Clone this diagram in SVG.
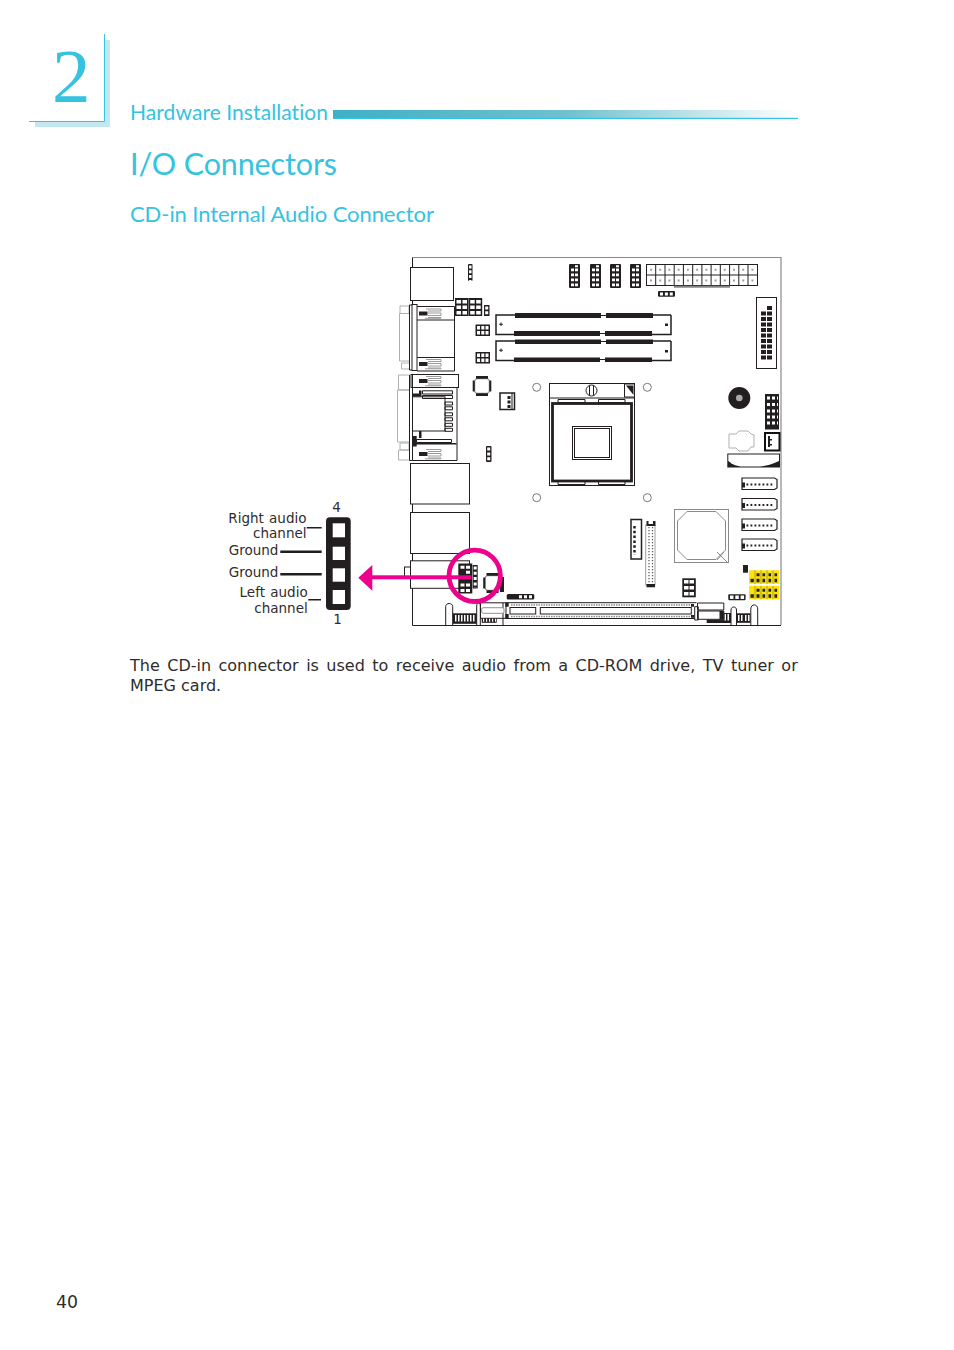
<svg xmlns="http://www.w3.org/2000/svg" width="954" height="1350" viewBox="0 0 954 1350">
<style>
.h{font-family:"Lato","Liberation Sans",sans-serif;fill:#35c3e0;font-variant-ligatures:none}
.t{font-family:"DejaVu Sans",sans-serif;fill:#2f2c2d}
.l{fill:none;stroke:#231f20;stroke-width:1}
.m{fill:none;stroke:#231f20;stroke-width:1.5}
.g{fill:none;stroke:#a8a8a8;stroke-width:1}
.k{fill:#231f20}
.w{fill:#fff}
.hole{fill:none;stroke:#fff;stroke-width:2.800}
.pk{fill:none;stroke:#231f20;stroke-width:1.400}
</style>
<defs>
<linearGradient id="bar" x1="0" x2="1" y1="0" y2="0">
<stop offset="0" stop-color="#3fb0c4"/><stop offset=".5" stop-color="#6fc0cf"/><stop offset="1" stop-color="#ffffff"/>
</linearGradient>
<g id="h24">
<rect class="k" width="11" height="24" rx="1"/>
<path class="w" d="M2 4.500h3v2.800h-3zM6 4.500h3v2.800h-3zM2 9.500h3v2.800h-3zM6 9.500h3v2.800h-3zM2 14.500h3v2.800h-3zM6 14.500h3v2.800h-3zM2 19.500h3v2.800h-3zM6 19.500h3v2.800h-3zM6 1.200h3v2h-3z"/>
</g>
<g id="h32">
<rect class="k" width="13.500" height="18"/>
<path class="w" d="M1.500 2h4.500v3.500h-4.500zM7.500 2h4.500v3.500h-4.500zM1.500 7.500h4.500v3.500h-4.500zM7.500 7.500h4.500v3.500h-4.500zM1.500 13h4.500v3.500h-4.500zM7.500 13h4.500v3.500h-4.500z"/>
</g>
<g id="h6">
<rect class="k" width="14.500" height="11.500"/>
<path class="w" d="M1.500 1.500h3v3.500h-3zM5.800 1.500h3v3.500h-3zM10 1.500h3v3.500h-3zM1.500 6.500h3v3.500h-3zM5.800 6.500h3v3.500h-3zM10 6.500h3v3.500h-3z"/>
</g>
<g id="sata">
<path class="w" d="M.5 1H33L35.500 2.500V11L33 12.500H.5Z" stroke="#231f20" stroke-width="1.200"/>
<rect class="k" x=".5" y="5.500" width="3" height="5"/>
<path d="M5 7.500H33" fill="none" stroke="#231f20" stroke-width="1.800" stroke-dasharray="1.800 2.200"/>
</g>
<g id="ypair">
<rect fill="#ffe400" width="30" height="13.500"/>
<path d="M6 0V13.500M12 0V13.500M18 0V13.500M24 0V13.500" stroke="#9c9850" stroke-width=".9"/>
<path class="k" d="M1.500 8.500h3.300v3.500h-3.300zM7.500 3h3v3h-3zM7.500 8.500h3v3.500h-3zM13.500 3h2.600v3h-2.600zM13.500 8.500h2.600v3.500h-2.600zM19.500 3h2.600v3h-2.600zM19.500 8.500h2.600v3.500h-2.600zM25.500 3h2.600v3h-2.600zM25.500 8.500h2.600v3.500h-2.600z"/>
</g>
<g id="vpin">
<path fill="none" stroke="#9a9a9a" d="M7 -4.500H22V-2.500H9M9 -.5H22V2H9M9 4H22V4.800H6"/>
<rect class="k" width="8.500" height="4" y="-2"/>
</g>
<g id="qfp">
<rect class="w" x="1.700" y="1.700" width="14.600" height="14.600" rx="2.500" stroke="#777" stroke-width="1"/>
<path class="k" d="M3 -1H15V1.700H3ZM3 16.300H15V19H3ZM-.3 3.500H1.700V14.500H-.3ZM16.300 3.500H18.300V14.500H16.300Z"/>
</g>
</defs>

<g id="chapter-mark">
<path fill="#c1e7f0" d="M105 40H110V127H35V122H105Z"/>
<path fill="none" stroke="#35c3e0" stroke-width="1" d="M104.500 34V121.500H29"/>
<text x="52" y="102" font-size="77" font-family="'Liberation Serif',serif" fill="#35c3e0">2</text>
</g>
<g id="chapter-title">
<text class="h" x="130" y="120" font-size="21" textLength="198" lengthAdjust="spacing">Hardware Installation</text>
<rect x="333" y="110" width="465" height="8.500" fill="url(#bar)"/>
<rect x="333" y="117.800" width="465" height="1.200" fill="#35c3e0"/>
</g>
<g id="section-title">
<text class="h" x="130" y="175" font-size="30.500" textLength="207" lengthAdjust="spacing">I/O Connectors</text>
<text class="h" x="130" y="222" font-size="22" textLength="304" lengthAdjust="spacing">CD-in Internal Audio Connector</text>
</g>

<g id="board-outline">
<path fill="none" stroke="#8a8a8a" stroke-width="1.200" d="M412.500 257.500H781V625"/>
<path class="l" d="M412.500 257.500V267M412.500 300V305M412.500 504V512M412.500 553V561M412.500 588V625.500H781"/>
</g>

<g id="rear-io-top">
<rect class="l" x="410.500" y="267.500" width="43" height="33"/>
<path fill="none" stroke="#b0b0b0" d="M400 306h9v7.500h-9zM399.500 313.500h10v47.500h-10zM401.500 363h8v6h-8z"/>
<rect class="l" x="412" y="304.500" width="5" height="66"/>
<path class="l" d="M417 306.500H454.500V371H417M417 320H454.500M417 357.500H454.500M409.500 305V370M409.500 305H412M409.500 370H412"/>
<use href="#vpin" x="419" y="313.500"/>
<use href="#vpin" x="419" y="364"/>
</g>
<g id="rear-io-lan">
<path fill="none" stroke="#b0b0b0" d="M398.500 375h11v15h-11zM397.500 390h12v52h-12zM400 443h9v7h-9zM398.500 450h11v10h-11z"/>
<path class="l" d="M409.500 375V460.500H412.500M412.500 374V460.500H457V387"/>
<rect class="l" x="411" y="374.500" width="47.500" height="13"/>
<use href="#vpin" x="419" y="381"/>
<rect class="l" x="412.500" y="396.800" width="32.500" height="34.200"/>
<path class="l" d="M422.500 390.800H452.500V394H422.500ZM422.500 395.500H452.500V398.500H422.500ZM445 402H452.500V405H445ZM445 406.800H452.500V409.800H445ZM445 412.800H452.500V415.800H445ZM445 417.800H452.500V420.800H445ZM445 423.300H452.500V426.300H445ZM445 428.300H452.500V431.300H445ZM416.500 439.500H451.500V442.500H416.500Z"/>
<path class="k" d="M412.500 393.500H421.500V396.500H412.500ZM419 390.500H421.500V396.500H419ZM419 431H421.500V438H419ZM413 436H416.700V446.500H413ZM412.500 443H456.500V444.500H412.500Z"/>
<use href="#vpin" x="419" y="454"/>
</g>
<g id="rear-io-usb">
<rect class="l" x="410.500" y="463.500" width="59" height="40.500"/>
<rect class="l" x="410.500" y="512.500" width="59" height="41"/>
<rect class="l" x="410.500" y="560.800" width="59" height="27.500"/>
<rect class="l" x="404.500" y="567" width="6" height="9.700"/>
</g>

<g id="headers-left">
<rect class="k" x="468" y="264" width="4.500" height="17" rx="1"/>
<path fill="none" stroke="#fff" stroke-width="2.500" stroke-dasharray="3 1.800" d="M470.300 265.500V281"/>
<use href="#h32" x="455" y="298"/>
<use href="#h32" x="468.700" y="298"/>
<rect class="k" x="484" y="305" width="5.500" height="11"/>
<path fill="none" stroke="#fff" stroke-width="3" stroke-dasharray="3 1.800" d="M486.700 306.500V316"/>
<use href="#h6" x="475.500" y="324.500"/>
<use href="#h6" x="475.500" y="352"/>
</g>

<g id="top-headers">
<use href="#h24" x="569" y="264"/>
<use href="#h24" x="590" y="264"/>
<use href="#h24" x="610" y="264"/>
<use href="#h24" x="630" y="264"/>
</g>
<g id="atx-power">
<rect class="l" x="646.500" y="264.500" width="111" height="21"/>
<path class="l" d="M646.500 275H757.500M655.700 264.500V285.500M665 264.500V285.500M674.200 264.500V285.500M683.400 264.500V285.500M692.700 264.500V285.500M701.900 264.500V285.500M711.100 264.500V285.500M720.300 264.500V285.500M729.600 264.500V285.500M738.800 264.500V285.500M748 264.500V285.500"/>
<path d="M650 269.800H754M650 280.500H754" fill="none" stroke="#a0a0a0" stroke-width="2" stroke-dasharray="2 7.220"/>
<rect x="674" y="285.700" width="56" height="2" fill="#808080"/>
<rect class="k" x="658" y="291" width="17" height="5.700" rx="1"/>
<path fill="none" stroke="#fff" stroke-width="3" stroke-dasharray="3 1.900" d="M660 293.900H674"/>
</g>

<g id="dimm-slots">
<path class="m" d="M515 315H496V334.500H514M671 315H653M671 315V334.500H652"/>
<path class="m" d="M515 341H496V360.500H514M671 341H653M671 341V360.500H652"/>
<path class="k" d="M515 313H601V318H515ZM606 313H653V318H606ZM514 331H600V336H514ZM605 331H652V336H605ZM515 339.500H601V344H515ZM606 339.500H653V344H606ZM514 357.500H600V362H514ZM605 357.500H652V362H605ZM601 315H606V316H601ZM600 333H605V334H600ZM601 341H606V342H601ZM600 359H605V360H600Z"/>
<path class="k" d="M665 323.500H668V326H665ZM665 350H668V352.500H665Z"/>
<path class="l" d="M501 322.500V326M499.200 324.300H502.800M501 348.500V352M499.200 350.300H502.800" stroke-width=".8"/>
</g>
<g id="front-panel-header">
<rect class="l" x="756.500" y="297.500" width="20" height="71"/>
<path class="k" d="M767 306h5v4h-5zM761 311.500h5v4h-5zM767 311.500h5v4h-5zM761 317h5v4h-5zM767 317h5v4h-5zM761 322.500h5v4h-5zM767 322.500h5v4h-5zM761 328h5v4h-5zM767 328h5v4h-5zM761 333.500h5v4h-5zM767 333.500h5v4h-5zM761 339h5v4h-5zM767 339h5v4h-5zM761 344.500h5v4h-5zM767 344.500h5v4h-5zM761 350h5v4h-5zM767 350h5v4h-5zM761 355.500h5v4h-5zM767 355.500h5v4h-5z"/>
</g>

<g id="qfp-top"><use href="#qfp" x="473" y="377"/></g>
<g id="fan-header-left">
<rect x="500" y="393" width="14.500" height="16.500" fill="#fff" stroke="#231f20" stroke-width="1.500"/>
<path class="k" d="M507.500 396h3v3h-3zM507.500 400.500h3v3h-3zM507.500 405h3v3h-3z"/>
<path class="l" d="M512 393V409.500"/>
</g>
<g id="jumper-3pin">
<rect class="k" x="486" y="446" width="5.500" height="16" rx="1"/>
<path fill="none" stroke="#fff" stroke-width="3" stroke-dasharray="3 1.900" d="M488.700 447.500V461"/>
</g>

<g id="mount-holes" fill="#fff" stroke="#777" stroke-width="1">
<circle cx="536.700" cy="387.300" r="4"/>
<circle cx="647.300" cy="387.300" r="4"/>
<circle cx="536.700" cy="497.700" r="4"/>
<circle cx="647.300" cy="497.700" r="4"/>
</g>

<g id="cpu-socket">
<rect class="l" x="549.500" y="383.500" width="85" height="102"/>
<path class="l" d="M549.500 398H634.500"/>
<circle cx="591.500" cy="390.500" r="5.500" fill="#fff" stroke="#231f20" stroke-width="1"/>
<path class="l" d="M589.500 385.500V395.500M593.500 385.500V395.500"/>
<rect class="l" x="624.500" y="384" width="10" height="13"/>
<path class="k" d="M626 385.500H633.500V395Z"/>
<rect x="552.500" y="403.500" width="79" height="77.500" fill="none" stroke="#231f20" stroke-width="2.800"/>
<path class="l" d="M558 399.500H585V402.500H558ZM598.500 399.500H625V402.500H598.500ZM558 481.500H585V484.500H558ZM598.500 481.500H625V484.500H598.500Z"/>
<rect class="l" x="572.500" y="426.500" width="39" height="33"/>
<rect class="l" x="574.500" y="428.500" width="35" height="29"/>
</g>

<g id="buzzer">
<circle class="k" cx="739.300" cy="398" r="11"/>
<circle cx="739.300" cy="398" r="3.300" fill="#aaa"/>
</g>
<g id="right-header">
<rect class="k" x="765" y="394" width="14" height="35.500"/>
<path class="hole" d="M767 398H778M767 404.500H778M767 411H778M767 417H778M767 423H778" stroke-dasharray="3 2"/>
</g>
<g id="battery-header">
<rect x="765" y="433" width="14.500" height="17.500" fill="#fff" stroke="#111" stroke-width="2"/>
<path class="k" d="M768 436H770V447H768ZM770 439h2v1.500h-2zM770 444h2v1.500h-2z"/>
</g>
<g id="battery">
<path fill="#fff" stroke="#b0b0b0" stroke-width="1" d="M729 434L736 434L739 431H748L751 434L754 435V447L751 447L748 451H739L736 448H729Z"/>
<path class="k" d="M727.300 453.500H780V467.500H727.300Z"/>
<path class="w" d="M728.300 454.500H779V461C770 465 765 466.500 755 466.500H743C736 466.500 732 464 728.300 461Z"/>
</g>

<g id="sata-ports">
<use href="#sata" x="741.500" y="477"/>
<use href="#sata" x="741.500" y="497.500"/>
<use href="#sata" x="741.500" y="518"/>
<use href="#sata" x="741.500" y="538"/>
</g>

<g id="chipset">
<rect x="674.500" y="509.500" width="54" height="53" fill="#fff" stroke="#8a8a8a" stroke-width="1"/>
<path fill="none" stroke="#8a8a8a" stroke-width="1" d="M687 511.500H716L725.500 521V550L716 559.500H687L677.500 550V521Z"/>
<path fill="none" stroke="#8a8a8a" stroke-width="1" d="M717 552L727 562M717 560L724 552"/>
</g>
<g id="pin-connector">
<path class="w" d="M631 519.500H641.500V559H631Z"/>
<path class="m" d="M641.500 519.500H631V559H641.500Z" stroke-width="1.200"/>
<path fill="none" stroke="#231f20" stroke-width="2.500" stroke-dasharray="2.500 2.300" d="M634.500 526V555"/>
</g>
<g id="ide-connector">
<rect x="645.700" y="525" width="9.300" height="60" fill="#fff" stroke="#a0a0a0" stroke-width="1"/>
<path class="k" d="M646.500 521H648.500V524H653V521H655.500V526H646.500ZM646.500 584H655V587.300H646.500Z"/>
<path d="M649 527V583M652.500 527V583" fill="none" stroke="#555" stroke-width="1.200" stroke-dasharray="1.200 1.800"/>
</g>
<g id="header-6pin">
<rect class="k" x="682.300" y="578.300" width="13.500" height="19"/>
<path class="w" d="M684 580H688.500V583.500H684ZM689.500 580H694V583.500H689.500ZM684 586H688.500V589.500H684ZM689.500 586H694V589.500H689.500ZM684 592H688.500V595.500H684ZM689.500 592H694V595.500H689.500Z"/>
</g>
<g id="yellow-jumpers">
<rect class="k" x="743" y="565" width="5" height="7.700"/>
<use href="#ypair" x="749" y="570.300"/>
<use href="#ypair" x="749" y="585.800"/>
</g>
<g id="jumper-bottom-right">
<rect class="k" x="728.300" y="594.300" width="17.300" height="6" rx="1"/>
<path fill="none" stroke="#fff" stroke-width="3.400" stroke-dasharray="3.500 1.800" d="M730 597.300H745"/>
</g>

<g id="pcie-slot">
<path class="l" d="M506 602.700H696.500M506 618.500H696.500M503 602.700V625"/>
<rect class="l" x="510" y="607.500" width="25.700" height="6.500"/>
<rect class="l" x="540.300" y="607.500" width="151" height="6.500"/>
<path d="M511 605H691M511 616.500H691" fill="none" stroke="#888" stroke-width="1.500" stroke-dasharray="1.500 1"/>
<path class="k" d="M505.300 602.700H508.700V606.700H505.300ZM505.300 614H508.700V618.700H505.300ZM691 604H694V606.700H691ZM691 615H694V617.700H691Z"/>
</g>
<g id="bottom-edge-left">
<path class="l" d="M445.700 625V606.500C445.700 602.500 452.700 602.500 452.700 606.500V625"/>
<rect class="k" x="452.700" y="613.300" width="24" height="10.500"/>
<path class="w" d="M455 615h1.500v6.500h-1.500zM458 615h1.500v6.500h-1.500zM461 615h1.500v6.500h-1.500zM464 615h1.500v6.500h-1.500zM467 615h1.500v6.500h-1.500zM470 615h1.500v6.500h-1.500zM473 615h1.500v6.500h-1.500z"/>
<path class="l" d="M476.700 625V606C476.700 602 480.300 602 480.300 606V625"/>
<rect class="l" x="480.500" y="602.800" width="25.500" height="15.500"/>
<rect x="481.700" y="607.700" width="22.300" height="5.600" rx="1.500" fill="#fff" stroke="#909090" stroke-width="1"/>
<rect class="k" x="481.700" y="618.300" width="15" height="4.500"/>
<path fill="none" stroke="#fff" stroke-width="3" stroke-dasharray="1.200 1.800" d="M483 620.300H496"/>
</g>
<g id="bottom-edge-right">
<rect class="k" x="706.700" y="613" width="25" height="10"/>
<path class="w" d="M707 613h16v6.500h-16zM724.500 614h1.500v6.500h-1.500zM727.500 614h1.500v6.500h-1.500z"/>
<path class="l w" d="M697.500 603H723.800V610H697.500ZM697.500 611H723.800V619.300H697.500ZM694.700 606.700H698.300V620H694.700Z" fill="#fff"/>
<path class="k" d="M719.500 611H723.800V619.300H719.500Z"/>
<path fill="#fff" stroke="#231f20" d="M731 625V610C731 606 736.500 606 736.500 610V625"/>
<rect class="k" x="736.500" y="613.300" width="14" height="9.500"/>
<path class="w" d="M738 615h1.500v6h-1.500zM741 615h1.500v6h-1.500zM745 615h1.500v6h-1.500zM748 615h1.500v6h-1.500z"/>
<path fill="#fff" stroke="#231f20" d="M750.800 625V609C750.800 603.500 757.700 603.500 757.700 609V625"/>
</g>

<g id="cdin-header">
<rect class="k" x="458.300" y="563.500" width="14" height="30"/>
<path class="w" d="M460.500 565.800H464.500V568.800H460.500ZM466 565.800H470V568.800H466ZM466 570.800H470V573.800H466ZM460.500 583.500H464.500V586.500H460.500ZM466 583.500H470V586.500H466ZM460.500 589H464.500V592H460.500ZM466 589H470V592H466Z"/>
<rect class="k" x="472.700" y="565" width="5" height="23.500"/>
<path fill="none" stroke="#fff" stroke-width="3" stroke-dasharray="3 2.300" d="M475.200 566.500V588"/>
</g>
<g id="qfp-bottom"><use href="#qfp" x="483.500" y="574" /><path class="k" d="M500 577H504V592H500Z"/></g>
<g id="jumper-cd">
<rect class="k" x="506.700" y="594" width="27.600" height="5.500" rx="1.500"/>
<path fill="none" stroke="#fff" stroke-width="3" stroke-dasharray="3 2" d="M519 596.800H532"/>
</g>

<g id="connectors">
<rect x="372" y="575.300" width="99.500" height="4" fill="#ec008c"/>
<path d="M358.300 577.800L372.300 565V590.700Z" fill="#ec008c"/>
<circle cx="474.700" cy="575.800" r="25.700" fill="none" stroke="#ec008c" stroke-width="4.800"/>
<path class="pk" d="M306.700 527.700H321.700M308.300 599.700H321"/>
<path fill="none" stroke="#231f20" stroke-width="2.600" d="M280.300 551.700H321.700M280.300 574.300H321.700"/>
</g>

<g id="cdin-detail">
<rect class="k" x="326" y="517.300" width="24.700" height="92.700" rx="4"/>
<rect class="w" x="332.700" y="523.300" width="12.300" height="14"/>
<rect class="w" x="332.700" y="546.700" width="12.300" height="13.300"/>
<rect class="w" x="332.700" y="568.300" width="12.300" height="13.400"/>
<rect class="w" x="332.700" y="590" width="12.300" height="14"/>
<text class="t" x="336.500" y="511.700" font-size="13.500" text-anchor="middle">4</text>
<text class="t" x="337.500" y="623.500" font-size="13.500" text-anchor="middle">1</text>
</g>
<g id="labels" font-size="13.500">
<text class="t" x="306.500" y="523" text-anchor="end" word-spacing="1">Right audio</text>
<text class="t" x="306.500" y="538" text-anchor="end">channel</text>
<text class="t" x="228.700" y="555">Ground</text>
<text class="t" x="228.700" y="577">Ground</text>
<text class="t" x="307.700" y="597" text-anchor="end" word-spacing="1">Left audio</text>
<text class="t" x="307.700" y="612.700" text-anchor="end">channel</text>
</g>

<g id="body-text" font-size="16">
<text class="t" x="130" y="671" word-spacing="2.370">The CD-in connector is used to receive audio from a CD-ROM drive, TV tuner or</text>
<text class="t" x="130" y="691">MPEG card.</text>
</g>
<text id="page-number" class="t" x="56" y="1307.500" font-size="17.300">40</text>
</svg>
